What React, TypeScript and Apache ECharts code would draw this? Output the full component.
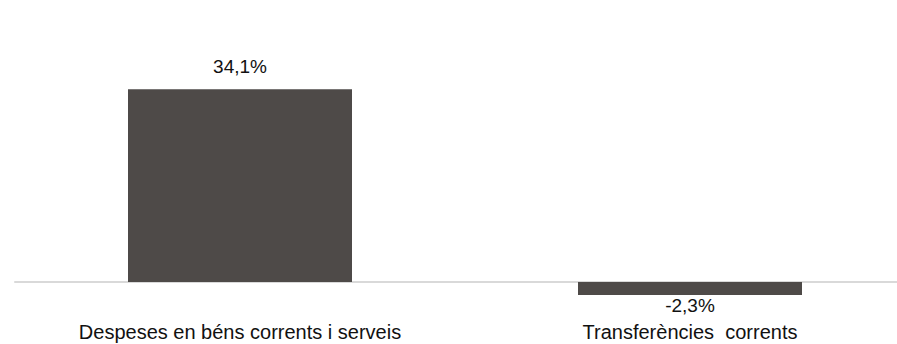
import React, { useEffect, useRef } from "react";
import * as echarts from "echarts";

const categories = ["Despeses en béns corrents i serveis", "Transferències  corrents"];
const values = [34.1, -2.3];

export default function App() {
  const ref = useRef<HTMLDivElement>(null);
  useEffect(() => {
    if (!ref.current) return;
    const chart = echarts.init(ref.current, null, { renderer: "svg" });
    chart.setOption({
      animation: false,
      grid: { left: 15, top: 56, width: 900, height: 254.3, containLabel: false, outerBoundsMode: "none" },
      xAxis: {
        type: "category",
        data: categories,
        axisLine: { onZero: true, lineStyle: { color: "#d9d9d9", width: 2 } },
        axisTick: { show: false },
        axisLabel: {
          margin: 12,
          color: "#111111",
          fontSize: 20,
          fontFamily: "Liberation Sans, Arial, sans-serif",
        },
      },
      yAxis: {
        type: "value",
        min: -5,
        max: 40,
        show: false,
        splitLine: { show: false },
      },
      series: [
        {
          type: "bar",
          data: values.map((v) => ({
            value: v,
            label: { position: v < 0 ? "bottom" : "top", distance: v < 0 ? 1 : 13 },
          })),
          barWidth: 224,
          itemStyle: { color: "#4e4a48" },
          label: {
            show: true,
            color: "#111111",
            fontSize: 19,
            fontFamily: "Liberation Sans, Arial, sans-serif",
            formatter: (p: any) => String(p.value).replace(".", ",") + "%",
          },
        },
      ],
    });
    return () => chart.dispose();
  }, []);
  return (
    <div style={{ position: "fixed", left: 0, top: 0, width: 897, height: 344, overflow: "hidden", background: "#fff" }}>
      <div ref={ref} style={{ width: 930, height: 344 }} />
    </div>
  );
}
